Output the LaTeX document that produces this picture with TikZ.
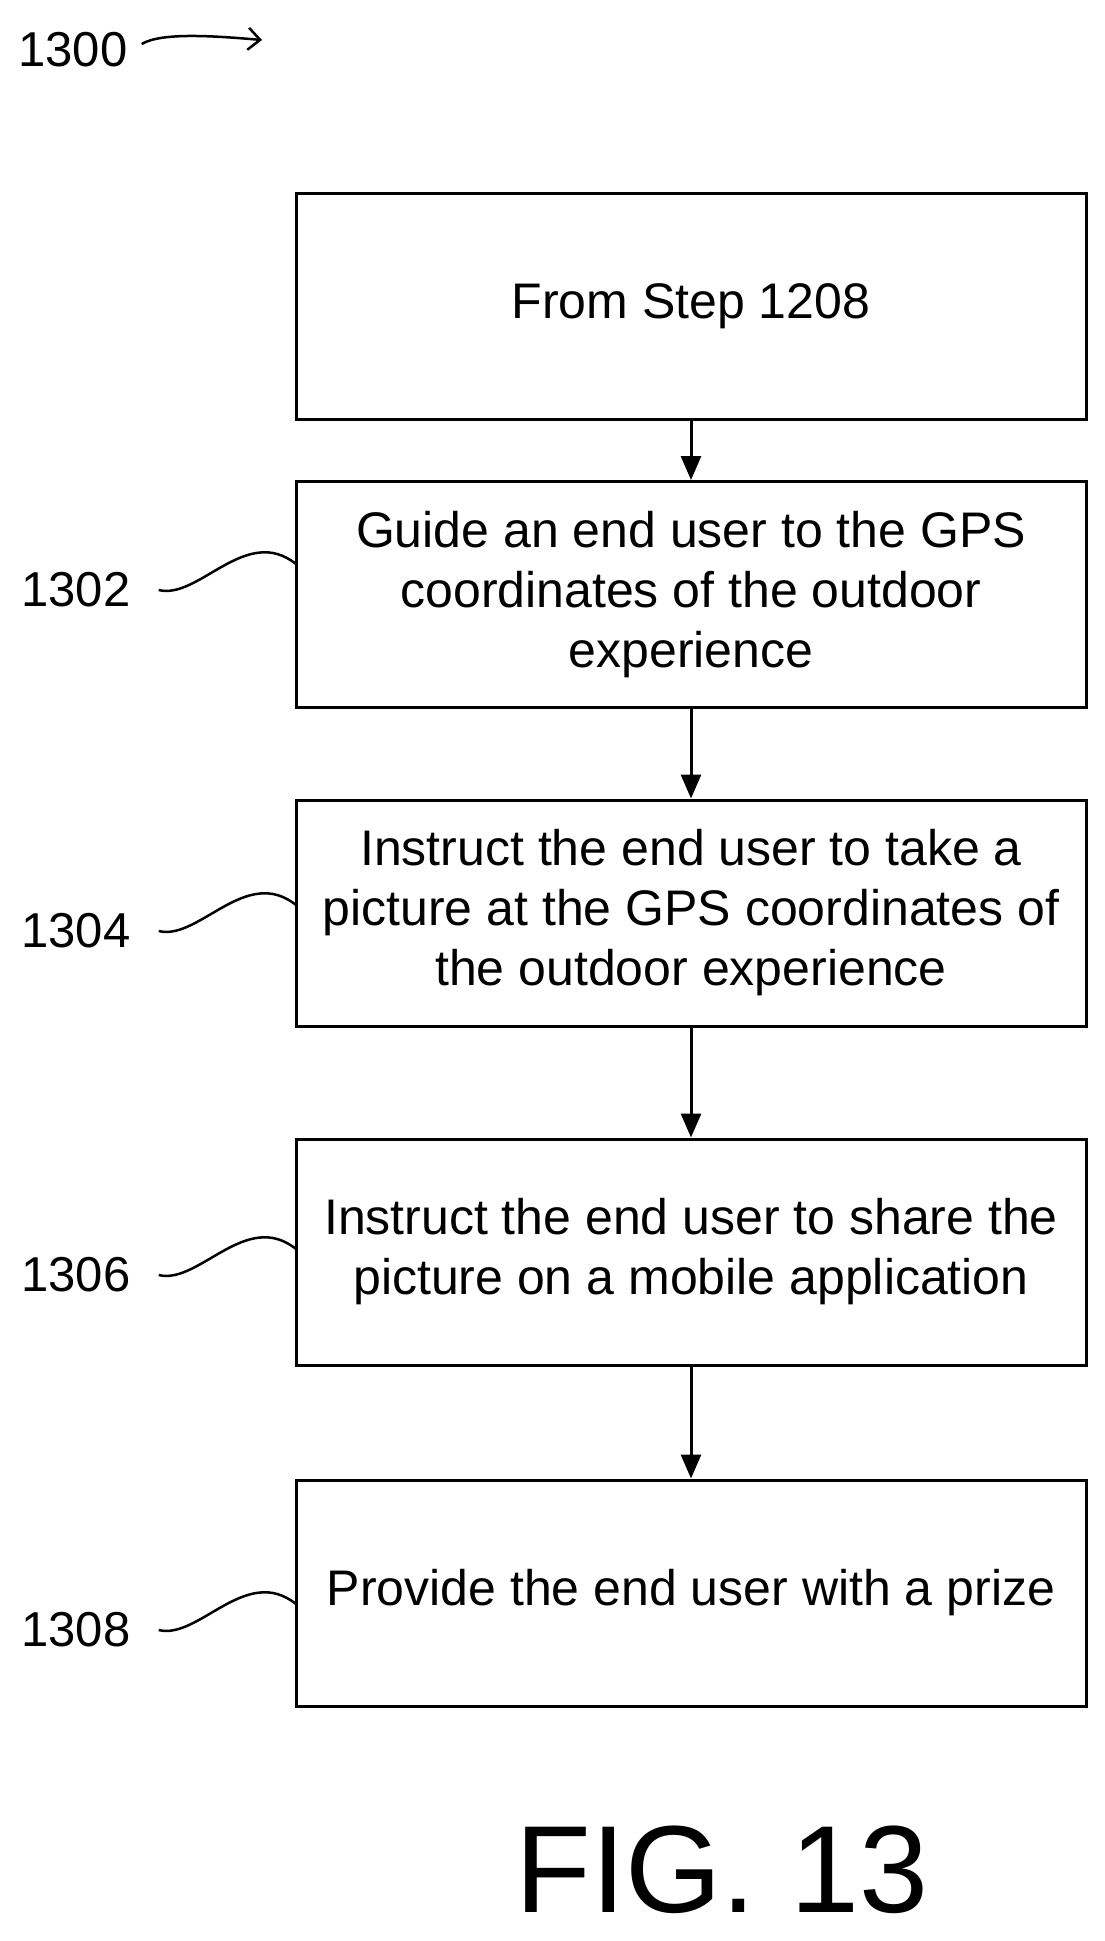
\documentclass[tikz,border=0pt]{standalone}
\usepackage{fontspec}
\setmainfont{Liberation Sans}
\usetikzlibrary{arrows.meta,calc}
\begin{document}
\begin{tikzpicture}[x=1pt,y=-1pt,
  box/.style={draw,line width=3pt,minimum width=790pt,minimum height=226pt,align=center,font=\fontsize{50}{60}\selectfont,inner sep=0},
  lbl/.style={font=\fontsize{49}{55}\selectfont,inner sep=0},
  arr/.style={line width=3pt,-{Triangle[length=24pt,width=20pt]}},
  wav/.style={line width=2.5pt}]
\useasboundingbox (0,0) rectangle (1105,1941);
\node[box] (b1) at (691,306) {From Step 1208};
\node[box] (b2) at (691,594.5) {Guide an end user to the GPS\\coordinates of the outdoor\\experience};
\node[box] (b3) at (691,913) {Instruct the end user to take a\\picture at the GPS coordinates of\\the outdoor experience};
\node[box] (b4) at (691,1252) {Instruct the end user to share the\\picture on a mobile application};
\node[box] (b5) at (691,1593) {Provide the end user with a prize};
\draw[arr] (b1) -- (b2);
\draw[arr] (b2) -- (b3);
\draw[arr] (b3) -- (b4);
\draw[arr] (b4) -- (b5);
\node[lbl] (l0) at (73,50) {1300};
\coordinate (a0) at (262,40);
\draw[wav,-{Straight Barb[length=12pt,width=22pt]}] ($(l0.east)+(14,-6)$) .. controls +(20,-12) and (215,36) .. (a0);
\foreach \n/\y in {1302/590,1304/931,1306/1275,1308/1630}{
  \node[lbl] (l\n) at (76,\y) {\n};
  \coordinate (c\n) at (296,\y-26);
  \draw[wav] ([xshift=28pt]l\n.east) .. controls +(40,10) and ($(c\n)+(-50,-40)$) .. (c\n);
}
\node[font=\fontsize{124}{124}\selectfont,inner sep=0] (fig) at (722,1870) {FIG. 13};
\end{tikzpicture}
\end{document}
